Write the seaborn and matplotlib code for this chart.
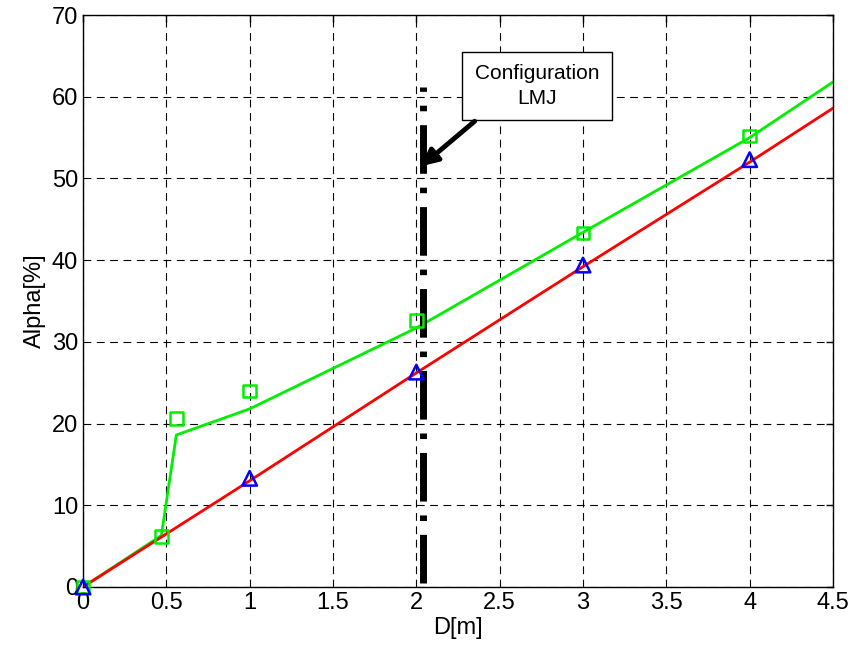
import matplotlib
matplotlib.use('Agg')
from matplotlib import pyplot as plt
import pandas as pd
import seaborn as sns

# measured points (markers)
sq_d = [0, 0.47, 0.56, 1, 2, 3, 4]
sq_alpha = [0, 6.2, 20.6, 24.0, 32.6, 43.3, 55.2]
tri_d = [0, 1, 2, 3, 4]
tri_alpha = [0, 13.3, 26.3, 39.4, 52.3]

# fitted curves
green_d = [0, 0.47, 0.56, 1, 2, 3, 4, 4.5]
green_alpha = [0, 6.3, 18.6, 21.8, 31.7, 43.4, 55.0, 61.8]
red_d = [0, 1, 2, 3, 4, 4.5]
red_alpha = [0, 13.0, 26.2, 39.2, 52.0, 58.6]

# LMJ configuration marker
lmj_d = 2.04
lmj_range = [0.5, 61.2]

sns.set_style('white')
plt.rcParams['font.family'] = ['Liberation Sans', 'DejaVu Sans']
plt.rcParams['text.color'] = 'black'
plt.rcParams['axes.labelcolor'] = 'black'

fig = plt.figure(figsize=(8.54, 6.53), dpi=100)
ax = fig.add_axes([0.0972, 0.1011, 0.8782, 0.8759])

sns.lineplot(x=green_d, y=green_alpha, color='#00ee00', lw=2, ax=ax, sort=False)
sns.lineplot(x=red_d, y=red_alpha, color='#ff0000', lw=2, ax=ax, sort=False)
sns.scatterplot(x=sq_d, y=sq_alpha, marker='s', s=80, facecolor='none',
                edgecolor='#00ee00', linewidth=1.8, ax=ax, zorder=5, clip_on=False)
sns.scatterplot(x=tri_d, y=tri_alpha, marker='^', s=110, facecolor='none',
                edgecolor='#0000ff', linewidth=1.8, ax=ax, zorder=6, clip_on=False)

ax.plot([lmj_d, lmj_d], lmj_range, color='black', lw=5,
        linestyle=(0, (7, 2, 0.8, 2)), zorder=4)

ax.text(2.724, 61.3, 'Configuration\nLMJ', ha='center', va='center',
        fontsize=15, linespacing=1.35,
        bbox=dict(boxstyle='square,pad=0.6', fc='white', ec='black', lw=1),
        zorder=7)
ax.annotate('', xy=(2.03, 51.5), xytext=(2.35, 57.0),
            arrowprops=dict(arrowstyle='-|>', color='black', lw=3.5,
                            mutation_scale=24, shrinkA=0, shrinkB=0),
            zorder=7)

ax.set_xlim(0, 4.5)
ax.set_ylim(0, 70)
ax.set_xticks([0, 0.5, 1, 1.5, 2, 2.5, 3, 3.5, 4, 4.5])
ax.set_xticklabels(['0', '0.5', '1', '1.5', '2', '2.5', '3', '3.5', '4', '4.5'])
ax.set_yticks(range(0, 71, 10))
ax.grid(True, color='black', linestyle=(0, (7, 5)), lw=0.8)
ax.tick_params(direction='in', top=True, right=True, length=5, width=1,
               labelsize=17, color='black', labelcolor='black')
for sp in ax.spines.values():
    sp.set_color('black')
    sp.set_linewidth(1)
ax.set_xlabel('D[m]', fontsize=17, labelpad=2)
ax.set_ylabel('Alpha[%]', fontsize=17, labelpad=4)

fig.savefig('out.png', dpi=100)
